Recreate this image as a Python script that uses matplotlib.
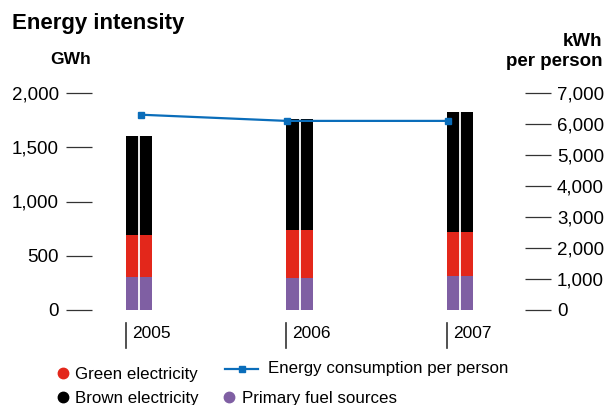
import numpy as np
import matplotlib
matplotlib.use("Agg")
import matplotlib.pyplot as plt
from matplotlib.lines import Line2D
from matplotlib.transforms import blended_transform_factory

years = ["2005", "2006", "2007"]
primary_fuel = [304, 298, 316]          # GWh
green_elec = [387, 439, 403]            # GWh
brown_elec = [913, 1023, 1106]          # GWh
kwh_per_person = [6300, 6100, 6100]     # kWh per person

RED = "#e3271b"
PURPLE = "#7f5fa3"
BLUE = "#0a6dba"
TICK = "#333333"

plt.rcParams["font.family"] = ["Liberation Sans", "DejaVu Sans"]

W, H = 606, 405
fig = plt.figure(figsize=(W / 100, H / 100), dpi=100)
# axes box in pixels: x 92..525, y 93..310
ax = fig.add_axes([92 / W, 1 - 310 / H, (525 - 92) / W, (310 - 93) / H])
ax2 = ax.twinx()

x = np.arange(len(years))
bw = 0.166
totals = np.add(np.add(primary_fuel, green_elec), brown_elec)
ax.bar(x, primary_fuel, bw, color=PURPLE, lw=0)
ax.bar(x, green_elec, bw, bottom=primary_fuel, color=RED, lw=0)
ax.bar(x, brown_elec, bw, bottom=np.add(primary_fuel, green_elec),
       color="black", lw=0)
# thin white split down the middle of each bar
ax.vlines(x, 0, totals, color="white", lw=1.3)

line_dx = [0.01, -0.08, -0.075]
ax2.plot(x + np.array(line_dx), kwh_per_person, color=BLUE, lw=1.6,
         marker="s", ms=5, clip_on=False, zorder=5)

ax.set_xlim(-0.293, 2.405)
ax.set_ylim(0, 2000)
ax2.set_ylim(0, 7000)
ax.set_yticks([0, 500, 1000, 1500, 2000])
ax.set_yticklabels(["0", "500", "1,000", "1,500", "2,000"])
ax2.set_yticks(range(0, 7001, 1000))
ax2.set_yticklabels([f"{v:,}" for v in range(0, 7001, 1000)])
ax.set_xticks([])
for a in (ax, ax2):
    for s in a.spines.values():
        s.set_visible(False)
ax.tick_params(axis="y", length=19, width=0.9, color=TICK, pad=5,
               labelsize=13.5)
ax2.tick_params(axis="y", length=19, width=0.9, color=TICK, pad=4,
                labelsize=13.5)

# year markers: short vertical line at the left bar edge, label to the right
tr = blended_transform_factory(ax.transData, ax.transAxes)
for i, yr in enumerate(years):
    xl = x[i] - bw / 2
    ax.plot([xl, xl], [-0.06, -0.175], color=TICK, lw=1.2,
            transform=tr, clip_on=False)
    ax.text(xl + 0.04, -0.108, yr, transform=tr, ha="left", va="center",
            fontsize=12.5)

fig.text(12 / W, 1 - 24 / H, "Energy intensity", fontsize=16,
         fontweight="bold", ha="left", va="center")
fig.text(71 / W, 1 - 60 / H, "GWh", fontsize=12.5, fontweight="bold",
         ha="center", va="center")
fig.text(602 / W, 1 - 42 / H, "kWh", fontsize=13.5, fontweight="bold",
         ha="right", va="center")
fig.text(602 / W, 1 - 61 / H, "per person", fontsize=13.5, fontweight="bold",
         ha="right", va="center")

# legend
def dot(px, py, c):
    fig.add_artist(Line2D([px / W], [1 - py / H], marker="o", ms=7.5,
                          color=c, transform=fig.transFigure))

dot(63, 373, RED)
fig.text(75 / W, 1 - 374 / H, "Green electricity", fontsize=12.2, va="center")
dot(63, 397, "black")
fig.text(75 / W, 1 - 398 / H, "Brown electricity", fontsize=12.2, va="center")
fig.add_artist(Line2D([225 / W, 258 / W], [1 - 369 / H] * 2, color=BLUE,
                      lw=1.6, transform=fig.transFigure))
fig.add_artist(Line2D([241.5 / W], [1 - 369 / H], marker="s", ms=4,
                      color=BLUE, transform=fig.transFigure))
fig.text(268 / W, 1 - 369 / H, "Energy consumption per person", fontsize=12.2,
         va="center")
dot(229, 397, PURPLE)
fig.text(242 / W, 1 - 398 / H, "Primary fuel sources", fontsize=12.2,
         va="center")

fig.savefig("out.png", dpi=100)
